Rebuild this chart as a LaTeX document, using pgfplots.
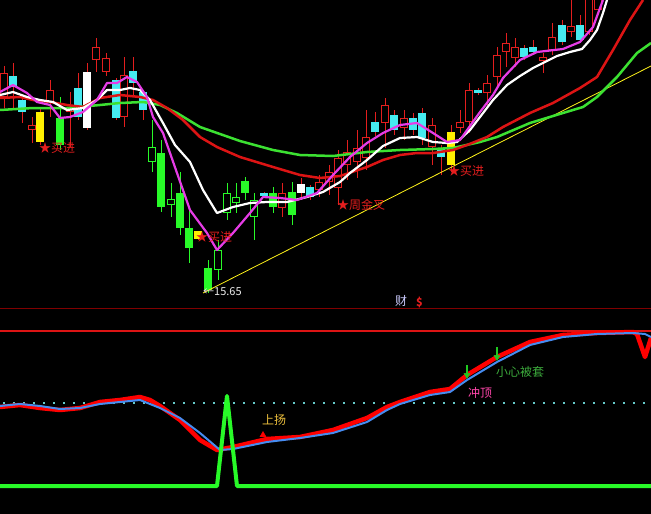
\documentclass[border=0pt]{standalone}
\usepackage{pgfplots}
\pgfplotsset{compat=1.18}
\usepackage{pgfplotstable}
\usepackage{fontspec}
\newfontfamily\cjk{Noto Sans CJK SC}

\definecolor{cred}{RGB}{228,30,30}
\definecolor{mared}{RGB}{220,20,20}
\definecolor{magen}{RGB}{230,60,230}
\definecolor{magreen}{RGB}{60,225,50}
\definecolor{ccyan}{RGB}{70,235,240}
\definecolor{cgreen}{RGB}{40,250,40}
\definecolor{cyel}{RGB}{255,240,0}
\definecolor{cblue}{RGB}{70,140,240}
\definecolor{cpink}{RGB}{255,70,170}
\definecolor{cgold}{RGB}{235,190,60}
\definecolor{cwarn}{RGB}{60,170,60}
\definecolor{dotc}{RGB}{100,200,200}

% candles in screen pixels: x, wick top h, body top t, body bottom b, wick bottom l
\pgfplotstableread{
x h t b l
4 66 73 97 108
32 117 125 130 143
50 80 90 102 117
70 92 108 112 147
96 38 47 60 72
106 53 58 72 76
124 57 75 117 127
282 183 193 208 217
319 175 182 190 197
329 165 172 182 195
338 150 158 188 205
347 140 152 165 180
357 130 148 162 178
366 110 137 158 170
385 98 105 123 148
404 110 118 128 140
432 118 125 147 165
460 110 122 128 133
469 83 90 122 133
487 75 83 93 105
497 47 55 77 87
506 33 43 52 67
515 38 47 58 67
543 53 57 61 73
552 23 37 50 55
571 0 26 32 37
589 -10 -5 32 35
598 -10 -5 10 15
}\redc
\pgfplotstableread{
x h t b l
13 63 76 87 110
22 98 100 112 123
78 73 88 117 120
116 78 80 118 120
133 57 71 83 97
143 90 92 110 120
264 192 193 196 198
310 185 187 197 200
375 112 122 132 136
394 110 115 130 135
413 113 118 130 135
422 108 113 138 145
441 145 148 157 175
478 88 90 93 95
524 45 48 57 60
533 40 47 52 55
562 20 25 42 45
580 15 25 40 42
}\cyanc
\pgfplotstableread{
x h t b l
60 97 118 145 150
161 140 153 207 212
180 172 193 228 235
189 210 228 248 263
208 260 268 290 293
245 177 181 193 200
273 187 193 207 213
292 182 192 215 225
}\greenc
\pgfplotstableread{
x h t b l
152 120 147 162 172
171 183 199 205 217
218 240 250 270 280
227 183 193 213 220
236 183 197 203 213
254 193 200 217 240
}\greenh
\pgfplotstableread{
x h t b l
40 108 112 142 145
198 231 231 239 240
451 125 132 165 172
}\yelc
\pgfplotstableread{
x h t b l
87 63 72 128 130
301 178 184 193 200
}\whitec

% vertical segments drawn as quiver arrows without heads
\newcommand\cwick[2]{\addplot[draw=#2, line width=1pt, mark=none,
  quiver={u=0, v=\thisrow{l}-\thisrow{h}}] table[x=x, y=h] {#1};}
\newcommand\cbody[2]{\addplot[draw=#2, line width=8pt, mark=none,
  quiver={u=0, v=\thisrow{b}-\thisrow{t}}] table[x=x, y=t] {#1};}
\newcommand\chole[1]{\addplot[draw=black, line width=6pt, mark=none,
  quiver={u=0, v=\thisrow{b}-\thisrow{t}-2}] table[x=x, y expr=\thisrow{t}+1] {#1};}

\begin{document}
\begin{tikzpicture}
\begin{axis}[
  scale only axis, width=651pt, height=514pt,
  xmin=0, xmax=651, ymin=0, ymax=514, y dir=reverse,
  ticks=none, axis line style={draw=none},
  axis background/.style={fill=black},
  clip=true,
]
% panel separators
\addplot[color=red!50!black, line width=1pt] coordinates {(0,308) (651,308)};
\addplot[color=mared, line width=2pt] coordinates {(0,331) (651,331)};

% candles
\cwick{\redc}{cred} \cbody{\redc}{cred} \chole{\redc}
\cwick{\cyanc}{cred} \cbody{\cyanc}{ccyan}
\cwick{\greenc}{cgreen} \cbody{\greenc}{cgreen}
\cwick{\greenh}{cgreen} \cbody{\greenh}{cgreen} \chole{\greenh}
\cwick{\yelc}{cred} \cbody{\yelc}{cyel}
\cwick{\whitec}{cred} \cbody{\whitec}{white}

% trend line
\addplot[color=yellow!90!white, line width=0.8pt] coordinates {(203,293) (651,66)};

% moving averages
\addplot[color=magreen, line width=2.5pt, line join=round] coordinates {
(0,110)(33,108)(67,108)(100,105)(120,103)(143,102)(160,105)(177,113)(200,127)
(240,141)(273,150)(300,155)(333,156)(367,152)(400,150)(433,149)(453,148)
(480,142)(497,137)(530,123)(563,113)(583,107)(597,97)(617,77)(637,53)(651,43)};
\addplot[color=mared, line width=2.5pt, line join=round] coordinates {
(0,98)(20,97)(33,100)(50,102)(67,105)(83,107)(100,98)(120,95)(140,97)(153,100)
(167,108)(183,120)(200,137)(217,147)(240,157)(273,167)(300,175)(320,178)
(340,176)(367,167)(383,160)(400,155)(417,153)(433,153)(453,150)(467,145)
(487,137)(503,127)(530,113)(553,103)(580,88)(597,77)(613,50)(630,20)(643,0)};
\addplot[color=white, line width=2.2pt, line join=round] coordinates {
(0,95)(13,92)(27,97)(40,100)(53,102)(67,110)(83,108)(97,100)(107,90)(120,90)
(130,88)(140,90)(150,100)(163,123)(175,145)(190,162)(203,190)(217,213)(233,207)
(250,203)(267,202)(287,202)(307,197)(323,192)(340,182)(350,173)(367,160)
(383,146)(400,138)(417,137)(433,142)(447,143)(457,142)(470,130)(480,117)
(493,100)(507,85)(520,76)(533,68)(545,62)(557,56)(570,52)(582,49)(590,40)
(597,30)(603,13)(607,0)};
\addplot[color=magen, line width=2.2pt, line join=round] coordinates {
(0,92)(13,85)(27,93)(37,102)(50,105)(60,118)(70,117)(83,112)(97,100)(107,83)
(117,83)(127,77)(137,82)(147,97)(153,117)(163,133)(177,173)(190,210)(207,233)
(217,250)(233,233)(250,213)(263,197)(280,198)(297,200)(317,193)(333,175)
(350,157)(367,143)(383,133)(400,125)(417,123)(433,133)(447,142)(460,140)
(480,112)(493,95)(503,78)(520,60)(537,52)(563,49)(580,42)(593,27)(603,0)};

% upper panel labels
\begin{scope}[every node/.style={anchor=west, inner sep=0pt, font=\cjk\fontsize{12}{12}\selectfont}]
\node[text=cred] at (axis cs:39,148) {★买进};
\node[text=cred] at (axis cs:196,237) {★买进};
\node[text=cred] at (axis cs:337,205) {★周金叉};
\node[text=cred] at (axis cs:448,171) {★买进};
\node[text=white!85!gray, font=\cjk\fontsize{11}{11}\selectfont] at (axis cs:203,292) {←15.65};
\node[text=blue!20!white] at (axis cs:395,301) {财};
\node[text=cred, font=\cjk\bfseries\fontsize{11}{11}\selectfont] at (axis cs:416,302) {\$};
\end{scope}

% lower panel
\addplot[color=dotc, line width=1.5pt, dash pattern=on 1.5pt off 8.5pt] coordinates {(3,403) (651,403)};
\addplot[color=red, line width=4.5pt, line join=round] coordinates {
(0,407)(20,405)(40,408)(60,410)(80,408)(100,402)(120,400)(140,397)(150,400)
(160,406)(180,420)(200,440)(217,450)(233,447)(267,439)(300,437)(333,430)
(367,418)(387,407)(400,402)(430,392)(450,389)(467,375)(497,357)(530,342)
(563,335)(597,333)(633,332)(637,334)(645,357)(651,338)};
\addplot[color=cblue, line width=2pt, line join=round] coordinates {
(0,406)(20,404)(40,406)(60,409)(80,408)(100,404)(120,402)(140,400)(160,408)
(180,418)(200,433)(220,450)(233,449)(267,442)(300,438)(333,433)(367,422)
(387,410)(400,404)(430,395)(450,392)(467,380)(497,362)(530,345)(563,337)
(597,334)(633,333)(645,334)(651,337)};
\addplot[only marks, mark=triangle*, mark size=3.5pt, color=red] coordinates {(263,435)};
\addplot[color=cgreen!80!black, line width=1.5pt] coordinates {(467,365) (467,374)};
\addplot[color=cgreen!80!black, line width=1.5pt] coordinates {(497,347) (497,356)};
\addplot[only marks, mark=triangle*, mark size=3.5pt, mark options={rotate=180}, color=cgreen!80!black]
  coordinates {(467,375) (497,357)};
\addplot[color=cgreen, line width=4pt, line join=round] coordinates {
(0,486)(217,486)(227,396)(237,486)(651,486)};

\begin{scope}[every node/.style={anchor=west, inner sep=0pt, font=\cjk\fontsize{12}{12}\selectfont}]
\node[text=cgold] at (axis cs:262,420) {上扬};
\node[text=cwarn] at (axis cs:496,372) {小心被套};
\node[text=cpink] at (axis cs:468,393) {冲顶};
\end{scope}
\end{axis}
\end{tikzpicture}
\end{document}
